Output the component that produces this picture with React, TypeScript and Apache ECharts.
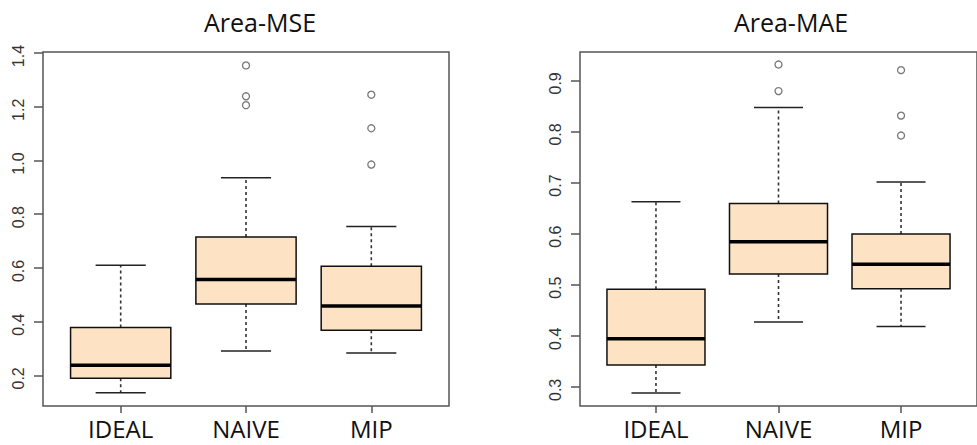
import React, { useEffect, useRef } from "react";
import * as echarts from "echarts";

const categories = ["IDEAL", "NAIVE", "MIP"];

// [lower whisker, Q1, median, Q3, upper whisker]
const mseStats = [
  [0.135, 0.189, 0.238, 0.378, 0.61],
  [0.291, 0.466, 0.557, 0.715, 0.936],
  [0.283, 0.368, 0.458, 0.606, 0.754],
];
const mseOutliers = [
  [2, 1.354],
  [2, 1.239],
  [2, 1.206],
  [3, 1.245],
  [3, 1.12],
  [3, 0.985],
];
const mseTicks = [0.2, 0.4, 0.6, 0.8, 1.0, 1.2, 1.4];

const maeStats = [
  [0.288, 0.343, 0.394, 0.491, 0.6625],
  [0.427, 0.521, 0.584, 0.659, 0.847],
  [0.418, 0.492, 0.54, 0.599, 0.701],
];
const maeOutliers = [
  [2, 0.931],
  [2, 0.879],
  [3, 0.92],
  [3, 0.831],
  [3, 0.792],
];
const maeTicks = [0.3, 0.4, 0.5, 0.6, 0.7, 0.8, 0.9];

const titles = ["Area-MSE", "Area-MAE"];

const BOX_FILL = "#FDE3C4";

function renderBox(params: any, api: any) {
  const x = api.value(0);
  const lo = api.coord([x, api.value(1)]);
  const q1 = api.coord([x, api.value(2)]);
  const med = api.coord([x, api.value(3)]);
  const q3 = api.coord([x, api.value(4)]);
  const hi = api.coord([x, api.value(5)]);
  const w = api.size([0.8, 0])[0];
  const cx = lo[0];
  const half = w / 2;
  const capHalf = w / 4;
  const whiskerStyle = { stroke: "#333", lineWidth: 1.6, lineDash: [3, 3] };
  const capStyle = { stroke: "#222", lineWidth: 1.5 };
  return {
    type: "group",
    children: [
      { type: "line", shape: { x1: cx, y1: q3[1], x2: cx, y2: hi[1] }, style: whiskerStyle },
      { type: "line", shape: { x1: cx, y1: q1[1], x2: cx, y2: lo[1] }, style: whiskerStyle },
      { type: "line", shape: { x1: cx - capHalf, y1: hi[1], x2: cx + capHalf, y2: hi[1] }, style: capStyle },
      { type: "line", shape: { x1: cx - capHalf, y1: lo[1], x2: cx + capHalf, y2: lo[1] }, style: capStyle },
      {
        type: "rect",
        shape: { x: cx - half, y: q3[1], width: w, height: q1[1] - q3[1] },
        style: { fill: BOX_FILL, stroke: "#111", lineWidth: 1.5 },
      },
      { type: "line", shape: { x1: cx - half, y1: med[1], x2: cx + half, y2: med[1] }, style: { stroke: "#000", lineWidth: 3.5 } },
    ],
  };
}

export default function App() {
  const ref = useRef<HTMLDivElement>(null);
  useEffect(() => {
    if (!ref.current) return;
    const chart = echarts.init(ref.current, null, { renderer: "svg" });

    const grids = [
      { left: 43, top: 52, width: 406, height: 354 },
      { left: 580, top: 52, width: 406, height: 354 },
    ];
    const yRanges = [
      [0.086, 1.404],
      [0.2625, 0.9555],
    ];
    const tickSets = [mseTicks, maeTicks];
    const statSets = [mseStats, maeStats];
    const outlierSets = [mseOutliers, maeOutliers];
    const titleCenters = [255, 786];

    const option: any = {
      animation: false,
      backgroundColor: "#fff",
      title: titles.map((t, i) => ({
        text: t,
        left: titleCenters[i],
        top: 4,
        textAlign: "center",
        textStyle: { fontFamily: "Open Sans", fontSize: 25, fontWeight: "normal", color: "#111" },
      })),
      grid: grids.map((g) => ({ ...g, show: true, borderColor: "#555", borderWidth: 1.5, backgroundColor: "transparent" })),
      xAxis: grids.map((_, i) => ({
        type: "value",
        gridIndex: i,
        min: 0.38,
        max: 3.62,
        splitLine: { show: false },
        axisLine: { show: false },
        axisTick: { show: true, customValues: [1, 2, 3], length: 7, lineStyle: { color: "#555", width: 1.5 } },
        axisLabel: {
          customValues: [1, 2, 3],
          formatter: (v: number) => categories[Math.round(v) - 1] || "",
          fontFamily: "Open Sans",
          fontSize: 24,
          lineHeight: 24,
          color: "#111",
          margin: 10,
        },
      })),
      yAxis: grids.map((_, i) => ({
        type: "value",
        gridIndex: i,
        min: yRanges[i][0],
        max: yRanges[i][1],
        splitLine: { show: false },
        axisLine: { show: false },
        axisTick: { show: true, customValues: tickSets[i], length: 9, lineStyle: { color: "#555", width: 1.5 } },
        axisLabel: {
          customValues: tickSets[i],
          formatter: (v: number) => v.toFixed(1),
          rotate: 90,
          fontFamily: "Liberation Sans",
          fontSize: 16,
          color: "#333",
          margin: 17,
          padding: [0, 6, 0, 0],
        },
      })),
      series: [
        ...statSets.map((stats, i) => ({
          type: "custom",
          xAxisIndex: i,
          yAxisIndex: i,
          renderItem: renderBox,
          encode: { x: 0, y: [1, 2, 3, 4, 5] },
          data: stats.map((s, k) => [k + 1, ...s]),
          z: 2,
        })),
        ...outlierSets.map((pts, i) => ({
          type: "scatter",
          xAxisIndex: i,
          yAxisIndex: i,
          symbol: "circle",
          symbolSize: 7,
          itemStyle: { color: "#fff", borderColor: "#555", borderWidth: 1.3 },
          data: pts,
          z: 3,
        })),
      ],
    };
    chart.setOption(option);
    return () => chart.dispose();
  }, []);
  return <div ref={ref} style={{ position: "fixed", left: 0, top: 0, width: 977, height: 445 }} />;
}
